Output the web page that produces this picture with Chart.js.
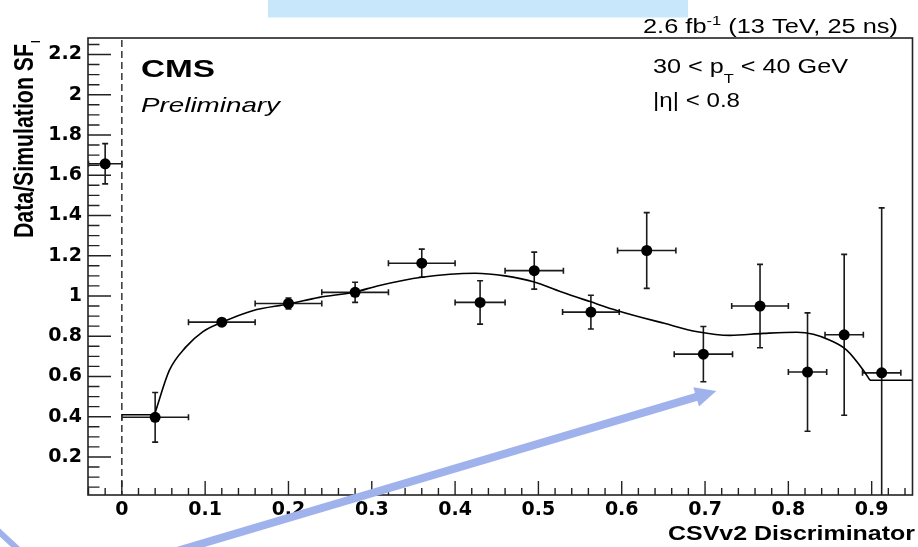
<!DOCTYPE html>
<html><head><meta charset="utf-8">
<script src="https://cdn.jsdelivr.net/npm/chart.js@4.4.1/dist/chart.umd.min.js"></script>
<style>html,body{margin:0;padding:0;background:#fff;}#wrap{width:918px;height:547px;}</style>
</head><body><div id="wrap"><canvas id="c" width="918" height="547"></canvas></div>
<script>
// ---- data ----
const binCenters   = [-0.02, 0.04, 0.12, 0.20, 0.28, 0.36, 0.43, 0.495, 0.563, 0.63, 0.698, 0.766, 0.823, 0.867, 0.912];
const sfValues     = [1.657, 0.397, 0.870, 0.963, 1.018, 1.163, 0.968, 1.126, 0.920, 1.226, 0.711, 0.950, 0.622, 0.807, 0.618];
const sfErrors     = [0.10, 0.123, 0.01, 0.027, 0.05, 0.07, 0.108, 0.092, 0.084, 0.188, 0.137, 0.207, 0.294, 0.40, 0.82];
const binHalfWidth = [0.02, 0.04, 0.04, 0.04, 0.04, 0.04, 0.03, 0.035, 0.034, 0.035, 0.035, 0.034, 0.023, 0.023, 0.023];

const fitLeftX  = [0.0, 0.04];
const fitLeftY  = [0.41, 0.41];
const fitCurveX = [0.040, 0.057, 0.077, 0.097, 0.120, 0.157, 0.200, 0.237, 0.280, 0.308, 0.360, 0.424, 0.460, 0.494, 0.527, 0.562, 0.595, 0.651, 0.691, 0.730, 0.770, 0.810, 0.830, 0.850, 0.870, 0.890, 0.898];
const fitCurveY = [0.420, 0.630, 0.747, 0.822, 0.869, 0.927, 0.960, 0.993, 1.020, 1.051, 1.093, 1.113, 1.100, 1.071, 1.021, 0.972, 0.927, 0.864, 0.822, 0.804, 0.814, 0.820, 0.810, 0.780, 0.731, 0.631, 0.581];
const fitRightX = [0.898, 0.949];
const fitRightY = [0.581, 0.581];

const xTickValues = [0, 0.1, 0.2, 0.3, 0.4, 0.5, 0.6, 0.7, 0.8, 0.9];
const xTickLabels = ["0", "0.1", "0.2", "0.3", "0.4", "0.5", "0.6", "0.7", "0.8", "0.9"];
const yTickValues = [0.2, 0.4, 0.6, 0.8, 1.0, 1.2, 1.4, 1.6, 1.8, 2.0, 2.2];
const yTickLabels = ["0.2", "0.4", "0.6", "0.8", "1", "1.2", "1.4", "1.6", "1.8", "2", "2.2"];
const xRange = [-0.0406, 0.949];
const yRange = [0.011, 2.282];

const arrowFrom = [0.064, -0.27];
const arrowTo   = [0.7135, 0.528];

const pts = (xa, ya) => xa.map((x, i) => ({x: x, y: ya[i]}));

// ---- plugins ----
const errorBars = {
  id: 'errorBars',
  beforeDatasetsDraw(chart) {
    const ctx = chart.ctx, xs = chart.scales.x, ys = chart.scales.y, a = chart.chartArea;
    ctx.save();
    ctx.beginPath(); ctx.rect(a.left, a.top, a.right - a.left, a.bottom - a.top); ctx.clip();
    ctx.strokeStyle = '#1a1a1a'; ctx.lineWidth = 1.6;
    const cap = 3;
    binCenters.forEach((x, i) => {
      const y = sfValues[i];
      const px = xs.getPixelForValue(x), py = ys.getPixelForValue(y);
      const x0 = xs.getPixelForValue(x - binHalfWidth[i]), x1 = xs.getPixelForValue(x + binHalfWidth[i]);
      const y0 = ys.getPixelForValue(y - sfErrors[i]), y1 = ys.getPixelForValue(y + sfErrors[i]);
      ctx.beginPath();
      ctx.moveTo(x0, py); ctx.lineTo(x1, py);
      ctx.moveTo(x0, py - cap); ctx.lineTo(x0, py + cap);
      ctx.moveTo(x1, py - cap); ctx.lineTo(x1, py + cap);
      ctx.moveTo(px, y0); ctx.lineTo(px, y1);
      ctx.moveTo(px - cap, y0); ctx.lineTo(px + cap, y0);
      ctx.moveTo(px - cap, y1); ctx.lineTo(px + cap, y1);
      ctx.stroke();
    });
    // dashed line at x = 0
    const zx = xs.getPixelForValue(0);
    ctx.setLineDash([7, 4]); ctx.strokeStyle = '#333'; ctx.lineWidth = 1.5;
    ctx.beginPath(); ctx.moveTo(zx, a.top + 2); ctx.lineTo(zx, a.bottom); ctx.stroke();
    ctx.restore();
  }
};

const frameTicks = {
  id: 'frameTicks',
  afterDatasetsDraw(chart) {
    const ctx = chart.ctx, xs = chart.scales.x, ys = chart.scales.y, a = chart.chartArea;
    ctx.save();
    ctx.strokeStyle = '#222'; ctx.lineWidth = 1.6;
    ctx.strokeRect(a.left, a.top, a.right - a.left, a.bottom - a.top);
    ctx.lineWidth = 1.4;
    ctx.beginPath();
    for (let k = -2; k <= 47; k++) {
      const v = k * 0.02;
      if (v < xRange[0] || v > xRange[1]) continue;
      const p = xs.getPixelForValue(v);
      const major = (k % 5 === 0);
      ctx.moveTo(p, a.bottom); ctx.lineTo(p, a.bottom - (major ? 14 : 7));
    }
    for (let k = 1; k <= 45; k++) {
      const v = k * 0.05;
      if (v < yRange[0] || v > yRange[1]) continue;
      const p = ys.getPixelForValue(v);
      const major = (k % 4 === 0);
      ctx.moveTo(a.left, p); ctx.lineTo(a.left + (major ? 23 : 11.5), p);
    }
    ctx.stroke();
    ctx.restore();
  }
};

function drawRuns(ctx, runs, x, y, targetW) {
  let total = 0; const ws = [];
  runs.forEach(r => { ctx.font = r.font; const w = ctx.measureText(r.t).width; ws.push(w); total += w; });
  const sx = targetW / total;
  ctx.save(); ctx.translate(x, y); ctx.scale(sx, 1);
  let cx = 0;
  runs.forEach((r, i) => { ctx.font = r.font; ctx.fillText(r.t, cx, r.dy || 0); cx += ws[i]; });
  ctx.restore();
}

const overlay = {
  id: 'overlay',
  afterDraw(chart) {
    const ctx = chart.ctx, xs = chart.scales.x, ys = chart.scales.y;
    ctx.save();
    ctx.fillStyle = '#c9e7fa';
    ctx.fillRect(268, 0, 420, 17.5);

    ctx.fillStyle = '#000'; ctx.textBaseline = 'alphabetic'; ctx.textAlign = 'left';
    const F = '"Liberation Sans", Arial, sans-serif';
    drawRuns(ctx, [
      {t: '2.6 fb', font: '20px ' + F},
      {t: '-1', font: '13px ' + F, dy: -8},
      {t: ' (13 TeV, 25 ns)', font: '20px ' + F}
    ], 643, 33.3, 255);
    drawRuns(ctx, [
      {t: '30 < p', font: '20px ' + F},
      {t: 'T', font: '13px ' + F, dy: 10},
      {t: ' < 40 GeV', font: '20px ' + F}
    ], 653, 73.3, 195);
    drawRuns(ctx, [{t: '|η| < 0.8', font: '20px ' + F}], 653, 107, 87);
    drawRuns(ctx, [{t: 'CMS', font: 'bold 24px ' + F}], 141, 77, 74);
    drawRuns(ctx, [{t: 'Preliminary', font: 'italic 21px ' + F}], 141, 112, 139);
    drawRuns(ctx, [{t: 'CSVv2 Discriminator', font: 'bold 21px ' + F}], 668, 540, 247);

    ctx.save();
    ctx.translate(33, 238); ctx.rotate(-Math.PI / 2);
    ctx.font = 'bold 20px ' + F;
    const main = 'Data/Simulation SF';
    const w = ctx.measureText(main).width;
    ctx.scale(194 / w, 1.4);
    ctx.fillText(main, 0, 0);
    ctx.font = 'bold 9px ' + F;
    ctx.fillText('l', w + 1, 5);
    ctx.restore();

    const blue = 'rgb(160,178,236)';
    const tx = xs.getPixelForValue(arrowFrom[0]), ty = ys.getPixelForValue(arrowFrom[1]);
    const hx = xs.getPixelForValue(arrowTo[0]), hy = ys.getPixelForValue(arrowTo[1]);
    const L = Math.hypot(hx - tx, hy - ty), dx = (hx - tx) / L, dy = (hy - ty) / L;
    const nx = -dy, ny = dx, headL = 21, headW = 10;
    const bx = hx - dx * headL, by = hy - dy * headL;
    ctx.strokeStyle = blue; ctx.fillStyle = blue; ctx.lineWidth = 8; ctx.lineCap = 'butt';
    ctx.beginPath(); ctx.moveTo(tx, ty); ctx.lineTo(bx + dx * 2, by + dy * 2); ctx.stroke();
    ctx.beginPath(); ctx.moveTo(hx, hy);
    ctx.lineTo(bx + nx * headW, by + ny * headW);
    ctx.lineTo(bx - nx * headW, by - ny * headW);
    ctx.closePath(); ctx.fill();

    ctx.lineWidth = 6;
    ctx.beginPath(); ctx.moveTo(-4, 529); ctx.lineTo(22, 553); ctx.stroke();
    ctx.restore();
  }
};

new Chart(document.getElementById('c'), {
  type: 'scatter',
  data: {
    datasets: [
      {label: 'data', data: pts(binCenters, sfValues), pointRadius: 5.5, pointHoverRadius: 5.5,
       backgroundColor: '#000', borderColor: '#000', borderWidth: 0, showLine: false},
      {label: 'fitLeft', data: pts(fitLeftX, fitLeftY), showLine: true, pointRadius: 0,
       borderColor: '#000', borderWidth: 1.6, fill: false},
      {label: 'fitCurve', data: pts(fitCurveX, fitCurveY), showLine: true, pointRadius: 0,
       borderColor: '#000', borderWidth: 1.6, fill: false, cubicInterpolationMode: 'monotone'},
      {label: 'fitRight', data: pts(fitRightX, fitRightY), showLine: true, pointRadius: 0,
       borderColor: '#000', borderWidth: 1.6, fill: false}
    ]
  },
  options: {
    responsive: false, animation: false, devicePixelRatio: 1,
    layout: {padding: {top: 38, right: 2, left: 0, bottom: 0}},
    plugins: {legend: {display: false}, tooltip: {enabled: false}, title: {display: false}},
    scales: {
      x: {
        type: 'linear', min: xRange[0], max: xRange[1],
        afterBuildTicks: s => { s.ticks = xTickValues.map(v => ({value: v})); },
        afterFit: s => { s.height = 52; },
        grid: {display: false, drawTicks: false}, border: {display: false},
        ticks: {autoSkip: false, maxRotation: 0, padding: 4, color: '#000',
                font: {family: '"DejaVu Sans"', weight: 'bold', size: 19},
                callback: (v, i) => xTickLabels[i]}
      },
      y: {
        type: 'linear', min: yRange[0], max: yRange[1],
        afterBuildTicks: s => { s.ticks = yTickValues.map(v => ({value: v})); },
        afterFit: s => { s.width = 88; },
        grid: {display: false, drawTicks: false}, border: {display: false},
        ticks: {autoSkip: false, padding: 6, color: '#000',
                font: {family: '"DejaVu Sans"', weight: 'bold', size: 19},
                callback: (v, i) => yTickLabels[i]}
      }
    }
  },
  plugins: [errorBars, frameTicks, overlay]
});
</script></body></html>
